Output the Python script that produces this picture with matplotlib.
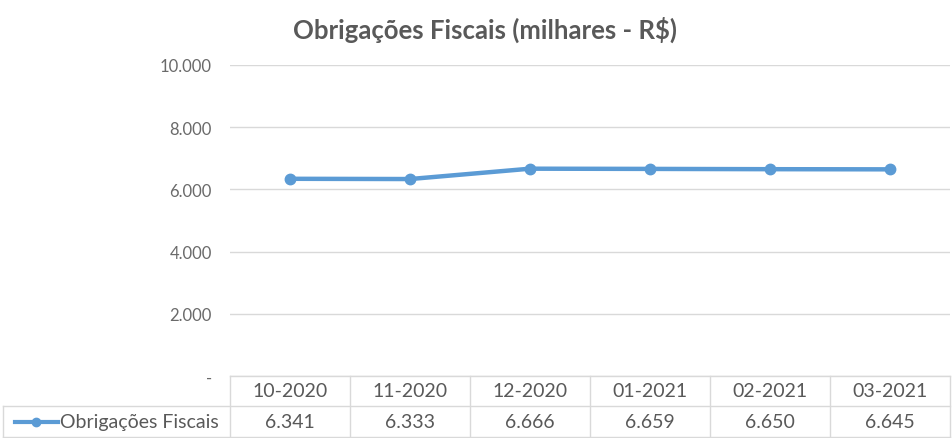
import numpy as np
import matplotlib.pyplot as plt
from matplotlib.transforms import blended_transform_factory

plt.rcParams['font.family'] = ['Lato', 'DejaVu Sans']

months = ['10-2020', '11-2020', '12-2020', '01-2021', '02-2021', '03-2021']
values = [6341, 6333, 6666, 6659, 6650, 6645]
yticks = [0, 2000, 4000, 6000, 8000, 10000]
ytick_labels = ['-', '2.000', '4.000', '6.000', '8.000', '10.000']
series_name = 'Obrigações Fiscais'
title = 'Obrigações Fiscais (milhares - R$)'

blue = '#5B9BD5'
txt = '#595959'
grid = '#D9D9D9'

W, H = 953, 439
fig = plt.figure(figsize=(W / 100, H / 100), dpi=100)
ax = fig.add_axes([230 / W, (H - 377) / H, 720 / W, 311 / H])

x = np.arange(len(months))
ax.plot(x, values, '-o', color=blue, linewidth=3.2, markersize=7.5, zorder=3)
ax.set_xlim(-0.5, len(months) - 0.5)
ax.set_ylim(0, 10000)
ax.set_yticks(yticks)
ax.set_yticklabels(ytick_labels, color='#6a6a6a', fontsize=12)
ax.tick_params(axis='y', length=0, pad=13)
ax.set_xticks([])
for s in ax.spines.values():
    s.set_visible(False)
ax.grid(axis='y', color=grid, linewidth=1)
ax.set_axisbelow(True)

fig.text(485 / W, 1 - 30 / H, title, ha='center', va='center',
         fontsize=18.5, fontweight='bold', color=txt)

# data table under the plot
tr = blended_transform_factory(ax.transData, ax.transAxes)
ph = 311.0
r1 = -30 / ph
r2 = -62 / ph
xl = -0.5 - 227 / 120.0
n = len(months)
lkw = dict(color=grid, linewidth=1, transform=tr, clip_on=False)
ax.plot([-0.5, n - 0.5], [0, 0], **lkw)
ax.plot([xl, n - 0.5], [r1, r1], **lkw)
ax.plot([xl, n - 0.5], [r2 + 0.003, r2 + 0.003], **lkw)
for i in range(n + 1):
    ax.plot([i - 0.5, i - 0.5], [0, r2], **lkw)
ax.plot([xl, xl], [r1, r2], **lkw)

for i, (m, v) in enumerate(zip(months, values)):
    ax.text(i, r1 / 2, m, ha='center', va='center', fontsize=14,
            color=txt, transform=tr, clip_on=False)
    s = f'{v:,}'.replace(',', '.')
    ax.text(i, (r1 + r2) / 2, s, ha='center', va='center', fontsize=14,
            color=txt, transform=tr, clip_on=False)

# legend key in table
lx0 = -0.5 - 215 / 120.0
lx1 = -0.5 - 172 / 120.0
ym = (r1 + r2) / 2
ax.plot([lx0, lx1], [ym, ym], '-', color=blue, linewidth=3, transform=tr,
        clip_on=False)
ax.plot([(lx0 + lx1) / 2], [ym], 'o', color=blue, markersize=6,
        transform=tr, clip_on=False)
ax.text(lx1 + 2 / 120.0, ym, series_name, ha='left', va='center',
        fontsize=14, color=txt, transform=tr, clip_on=False)

fig.savefig('out.png', dpi=100)
